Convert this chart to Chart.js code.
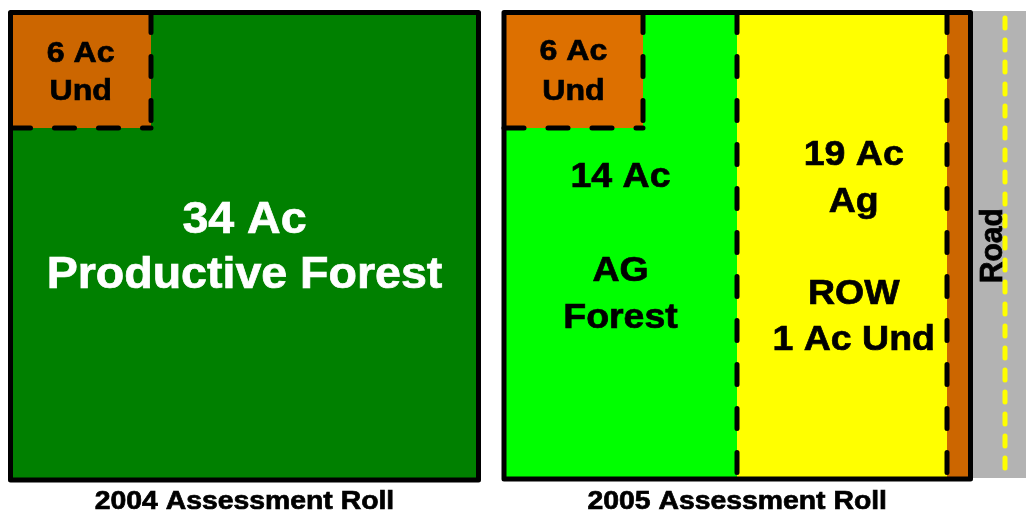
<!DOCTYPE html>
<html>
<head>
<meta charset="utf-8">
<script src="https://cdn.jsdelivr.net/npm/chart.js@4/dist/chart.umd.min.js"></script>
<style>
  html, body { margin: 0; padding: 0; background: #fff; }
  #wrap { width: 1026px; height: 512px; }
</style>
</head>
<body>
<div id="wrap"><canvas id="parcelChart" width="1026" height="512"></canvas></div>
<script>
// parcel data (acres) and labels
const rollTitles = ["2004 Assessment Roll", "2005 Assessment Roll"];
const acres2004 = [6, 34];
const uses2004 = ["Und", "Productive Forest"];
const acres2005 = [6, 14, 19, 1];
const uses2005 = ["Und", "AG", "Forest", "Ag", "ROW", "Und"];
const roadLabel = "Road";

// drawing layout in scale units (x 0..1026, y 0..512 top-down)
const FONT = 'Arial, "Liberation Sans", sans-serif';
const STRETCH = 1.07; // the reference text is a little wide
const colors = {
  darkGreen: "#008000",
  green: "#00FF00",
  yellow: "#FFFF00",
  orange: "#CC6600",
  orangeLight: "#DD7000",
  road: "#B3B3B3",
};
const left = { x0: 10.5, x1: 478.5, y0: 12.5, y1: 480, sqX: 151, sqY: 128 };
const right = { x0: 504, x1: 970.5, y0: 12.5, y1: 479, sqX: 643, sqY: 128, split: 737, row: 947 };
const road = { x0: 973, x1: 1026, y0: 11, y1: 478, mid: 1005 };

const parcelPlugin = {
  id: "parcels",
  beforeDatasetsDraw(chart) {
    const ctx = chart.ctx;
    const sx = chart.scales.x, sy = chart.scales.y;
    const px = (v) => sx.getPixelForValue(v);
    const py = (v) => sy.getPixelForValue(v);

    const rect = (x0, y0, x1, y1, fill) => {
      ctx.fillStyle = fill;
      ctx.fillRect(px(x0), py(y0), px(x1) - px(x0), py(y1) - py(y0));
    };
    const dashed = (x0, y0, x1, y1, color, width, dash) => {
      ctx.save();
      ctx.strokeStyle = color;
      ctx.lineWidth = width;
      ctx.lineCap = "round";
      ctx.setLineDash(dash);
      ctx.beginPath();
      ctx.moveTo(px(x0), py(y0));
      ctx.lineTo(px(x1), py(y1));
      ctx.stroke();
      ctx.restore();
    };
    const border = (p) => {
      ctx.save();
      ctx.strokeStyle = "#000";
      ctx.lineWidth = 5;
      ctx.lineJoin = "round";
      ctx.strokeRect(px(p.x0), py(p.y0), px(p.x1) - px(p.x0), py(p.y1) - py(p.y0));
      ctx.restore();
    };
    const text = (str, x, y, size, color, rotate) => {
      ctx.save();
      ctx.translate(px(x), py(y));
      if (rotate) {
        ctx.rotate(-Math.PI / 2);
        ctx.scale(1, STRETCH);
      } else {
        ctx.scale(STRETCH, 1);
      }
      ctx.font = "bold " + size + "px " + FONT;
      ctx.fillStyle = color;
      ctx.strokeStyle = color;
      ctx.lineWidth = 0.7;
      ctx.textAlign = "center";
      ctx.textBaseline = "alphabetic";
      ctx.fillText(str, 0, 0);
      ctx.strokeText(str, 0, 0);
      ctx.restore();
    };
    const blackDash = [20, 24];

    // 2004 parcel
    rect(left.x0, left.y0, left.x1, left.y1, colors.darkGreen);
    rect(left.x0, left.y0, left.sqX, left.sqY, colors.orange);
    dashed(left.sqX, left.y0, left.sqX, left.sqY, "#000", 5, blackDash);
    dashed(left.x0, left.sqY, left.sqX, left.sqY, "#000", 5, blackDash);
    border(left);
    const lcx = (left.x0 + left.sqX) / 2;
    text(acres2004[0] + " Ac", lcx, 62, 30, "#000");
    text(uses2004[0], lcx, 100, 30, "#000");
    const mcx = (left.x0 + left.x1) / 2;
    text(acres2004[1] + " Ac", mcx, 233, 43.5, "#fff");
    text(uses2004[1], mcx, 288, 43.5, "#fff");
    text(rollTitles[0], mcx, 509, 26.5, "#000");

    // road
    rect(road.x0, road.y0, road.x1, road.y1, colors.road);
    dashed(road.mid, road.y0 + 7, road.mid, road.y1 - 2, colors.yellow, 5, [10, 12]);
    text(roadLabel, 1002, (right.y0 + right.y1) / 2, 30, "#000", true);

    // 2005 parcel
    rect(right.x0, right.y0, right.split, right.y1, colors.green);
    rect(right.split, right.y0, right.row, right.y1, colors.yellow);
    rect(right.row, right.y0, right.x1, right.y1, colors.orange);
    rect(right.x0, right.y0, right.sqX, right.sqY, colors.orangeLight);
    dashed(right.sqX, right.y0, right.sqX, right.sqY, "#000", 5, blackDash);
    dashed(right.x0, right.sqY, right.sqX, right.sqY, "#000", 5, blackDash);
    dashed(right.split, right.y0, right.split, right.y1, "#000", 5, blackDash);
    dashed(right.row, right.y0, right.row, right.y1, "#000", 5, blackDash);
    border(right);

    const rsx = (right.x0 + right.sqX) / 2;
    text(acres2005[0] + " Ac", rsx, 60, 30, "#000");
    text(uses2005[0], rsx, 100, 30, "#000");
    const gcx = (right.x0 + right.split) / 2;
    text(acres2005[1] + " Ac", gcx, 187, 35, "#000");
    text(uses2005[1], gcx, 281, 35, "#000");
    text(uses2005[2], gcx, 328, 35, "#000");
    const ycx = (right.split + right.x1) / 2;
    text(acres2005[2] + " Ac", ycx, 165, 35, "#000");
    text(uses2005[3], ycx, 211.5, 35, "#000");
    text(uses2005[4], ycx, 303.5, 35, "#000");
    text(acres2005[3] + " Ac " + uses2005[5], ycx, 350, 35, "#000");
    text(rollTitles[1], (right.x0 + right.x1) / 2, 509, 26.5, "#000");
  },
};

new Chart(document.getElementById("parcelChart"), {
  type: "scatter",
  data: { datasets: [{ data: [], pointRadius: 0 }] },
  options: {
    responsive: false,
    animation: false,
    events: [],
    layout: { padding: 0 },
    plugins: { legend: { display: false }, tooltip: { enabled: false } },
    scales: {
      x: { type: "linear", min: 0, max: 1026, display: false },
      y: { type: "linear", min: 0, max: 512, reverse: true, display: false },
    },
  },
  plugins: [parcelPlugin],
});
</script>
</body>
</html>
